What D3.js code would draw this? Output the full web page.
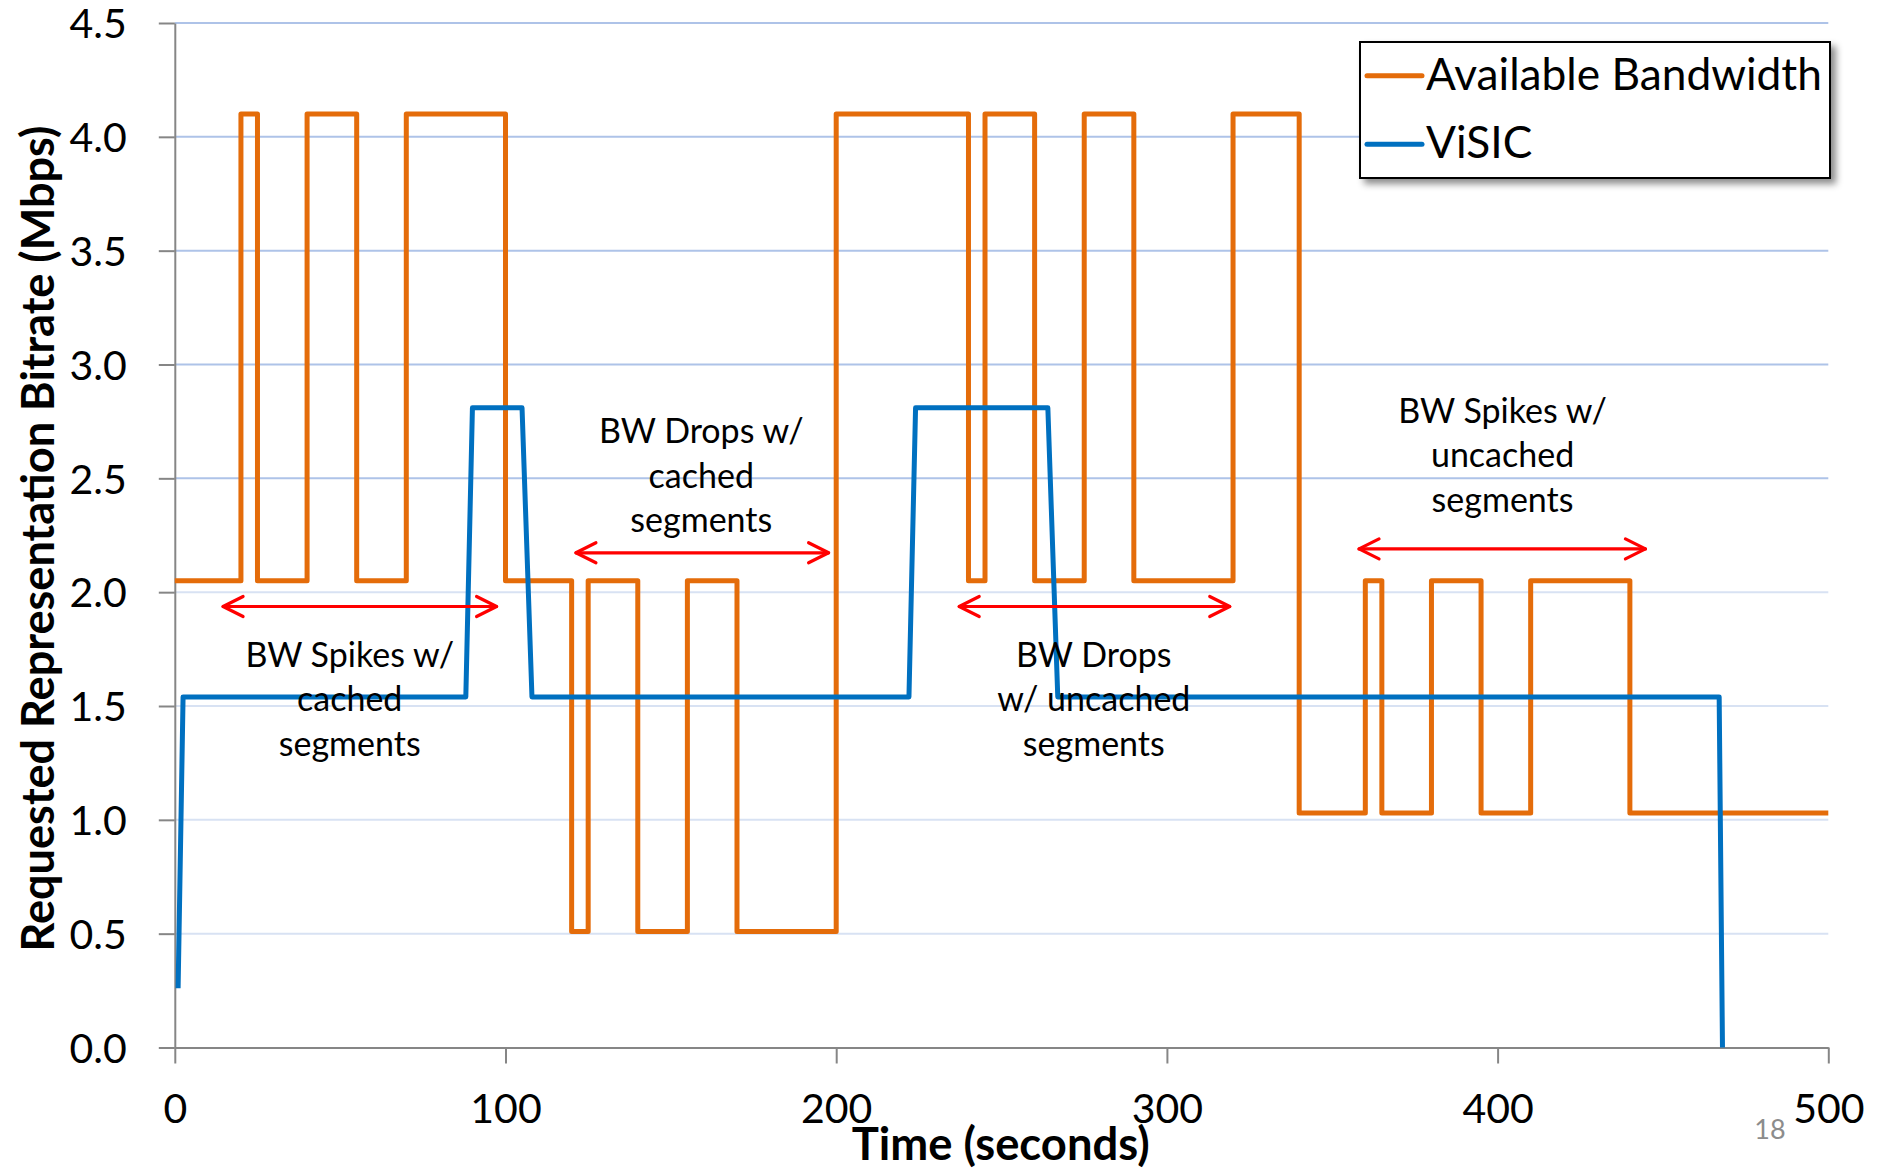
<!DOCTYPE html>
<html>
<head>
<meta charset="utf-8">
<script src="https://cdn.jsdelivr.net/npm/d3@7"></script>
<style>
  html, body { margin: 0; padding: 0; background: #fff; }
  svg { display: block; font-family: Lato, "Open Sans", sans-serif; }
</style>
</head>
<body>
<div id="chart"></div>
<script>
// Available bandwidth: step changes (value holds until next time)
const bwTimes  = [0, 20, 25, 40, 55, 70, 100, 120, 125, 140, 155, 170, 200, 240, 245, 260, 275, 290, 320, 340, 360, 365, 380, 395, 410, 440, 500];
const bwValues = [2.05, 4.1, 2.05, 4.1, 2.05, 4.1, 2.05, 0.51, 2.05, 0.51, 2.05, 0.51, 4.1, 2.05, 4.1, 2.05, 4.1, 2.05, 4.1, 1.03, 2.05, 1.03, 2.05, 1.03, 2.05, 1.03, 1.03];

// ViSIC requested bitrate
const visicTimes  = [1, 2.5, 88, 90, 105, 108, 222, 224, 264, 267, 467, 468];
const visicValues = [0.26, 1.54, 1.54, 2.81, 2.81, 1.54, 1.54, 2.81, 2.81, 1.54, 1.54, 0];

const xTicks = [0, 100, 200, 300, 400, 500];
const yTicks = [0, 0.5, 1, 1.5, 2, 2.5, 3, 3.5, 4, 4.5];

const seriesNames = ['Available Bandwidth', 'ViSIC'];

// annotations: text lines, centre time, first baseline, arrow span and level
const noteLines = [
  ['BW Spikes w/', 'cached', 'segments'],
  ['BW Drops w/', 'cached', 'segments'],
  ['BW Drops', 'w/ uncached', 'segments'],
  ['BW Spikes w/', 'uncached', 'segments']
];
const noteCenters   = [52.9, 159.2, 277.9, 401.5];
const noteBaselines = [1.673, 2.655, 1.673, 2.744];
const arrowStarts   = [14.6, 121.3, 237.2, 358.1];
const arrowEnds     = [97.3, 197.7, 319.0, 444.7];
const arrowLevels   = [1.937, 2.173, 1.937, 2.19];

const width = 1877, height = 1169;
const margin = {top: 23, right: 48.7, bottom: 121.5, left: 174.8};
const orange = '#e46c0a', blue = '#0070c0', red = '#ff0000';

const svg = d3.select('#chart').append('svg')
  .attr('width', width)
  .attr('height', height);

const defs = svg.append('defs');
const shadow = defs.append('filter').attr('id', 'shadow')
  .attr('x', '-10%').attr('y', '-20%').attr('width', '130%').attr('height', '160%');
shadow.append('feDropShadow')
  .attr('dx', 5).attr('dy', 5).attr('stdDeviation', 3.5)
  .attr('flood-color', '#000').attr('flood-opacity', 0.45);

const x = d3.scaleLinear()
  .domain([0, 500])
  .range([margin.left, width - margin.right]);

const y = d3.scaleLinear()
  .domain([0, 4.5])
  .range([height - margin.bottom, margin.top]);

// gridlines
svg.append('g').attr('class', 'grid')
  .selectAll('line').data(yTicks.filter(d => d > 0))
  .enter().append('line')
  .attr('x1', x(0)).attr('x2', x(500))
  .attr('y1', d => y(d)).attr('y2', d => y(d))
  .attr('stroke', d => d > 2.2 ? '#aec3e8' : '#d8e2f3')
  .attr('stroke-width', 2);

// Y axis
const yAxis = svg.append('g')
  .attr('transform', 'translate(' + x(0) + ',0)')
  .call(d3.axisLeft(y).tickValues(yTicks).tickFormat(d3.format('.1f'))
    .tickSize(16).tickSizeOuter(0).tickPadding(32));

// X axis
const xAxis = svg.append('g')
  .attr('transform', 'translate(0,' + y(0) + ')')
  .call(d3.axisBottom(x).tickValues(xTicks).tickFormat(d3.format('d'))
    .tickSize(16).tickSizeOuter(0));
xAxis.selectAll('text').attr('dy', null).attr('y', 75.5);

[yAxis, xAxis].forEach(a => {
  a.select('.domain').attr('stroke', '#868686').attr('stroke-width', 2);
  a.selectAll('.tick line').attr('stroke', '#868686').attr('stroke-width', 2);
  a.selectAll('text').attr('fill', '#000').style('font-size', '41px')
    .style('font-family', 'Lato, sans-serif');
});
yAxis.selectAll('text').attr('dy', '0.36em');

// series
const bwLine = d3.line()
  .x((d, i) => x(bwTimes[i]))
  .y(d => y(d))
  .curve(d3.curveStepAfter);

svg.append('path')
  .attr('d', bwLine(bwValues))
  .attr('fill', 'none')
  .attr('stroke', orange)
  .attr('stroke-width', 5)
  .attr('stroke-linejoin', 'round');

const visicLine = d3.line()
  .x((d, i) => x(visicTimes[i]))
  .y(d => y(d));

svg.append('path')
  .attr('d', visicLine(visicValues))
  .attr('fill', 'none')
  .attr('stroke', blue)
  .attr('stroke-width', 5)
  .attr('stroke-linejoin', 'round');

// annotation arrows
const arrows = svg.append('g').attr('class', 'arrows')
  .attr('fill', 'none').attr('stroke', red).attr('stroke-width', 3.2)
  .attr('stroke-linecap', 'round').attr('stroke-linejoin', 'round');

arrowStarts.forEach((s, i) => {
  const x1 = x(s), x2 = x(arrowEnds[i]), yy = y(arrowLevels[i]);
  arrows.append('line').attr('x1', x1).attr('x2', x2).attr('y1', yy).attr('y2', yy);
  arrows.append('path').attr('d', `M${x1 + 20},${yy - 10}L${x1},${yy}L${x1 + 20},${yy + 10}`);
  arrows.append('path').attr('d', `M${x2 - 20},${yy - 10}L${x2},${yy}L${x2 - 20},${yy + 10}`);
});

// annotation text
const notes = svg.append('g').attr('class', 'notes')
  .attr('text-anchor', 'middle')
  .style('font-size', '34px');

noteLines.forEach((lines, i) => {
  const t = notes.append('text')
    .attr('x', x(noteCenters[i]))
    .attr('y', y(noteBaselines[i]));
  lines.forEach((l, j) => {
    t.append('tspan')
      .attr('x', x(noteCenters[i]))
      .attr('dy', j === 0 ? 0 : 44.6)
      .text(l);
  });
});

// axis titles and legend text are sized to the reference widths
function fitWidth(sel, target) {
  const len = sel.node().getComputedTextLength();
  const size = parseFloat(sel.style('font-size'));
  sel.style('font-size', (size * target / len) + 'px');
  return size * target / len;
}

// legend
const legend = svg.append('g').attr('class', 'legend');
legend.append('rect')
  .attr('x', 1360).attr('y', 42)
  .attr('width', 470).attr('height', 136)
  .attr('fill', '#fff')
  .attr('stroke', '#000')
  .attr('stroke-width', 2)
  .attr('filter', 'url(#shadow)');

const legendColors = [orange, blue];
const legendTexts = [];
seriesNames.forEach((name, i) => {
  const ly = 75.8 + i * 68.5;
  legend.append('line')
    .attr('x1', 1367).attr('x2', 1422)
    .attr('y1', ly).attr('y2', ly)
    .attr('stroke', legendColors[i])
    .attr('stroke-width', 5)
    .attr('stroke-linecap', 'round');
  legendTexts.push(legend.append('text')
    .attr('x', 1426)
    .attr('y', ly + 14)
    .style('font-size', '40px')
    .text(name));
});
const legendSize = fitWidth(legendTexts[0], 396);
legendTexts[1].style('font-size', legendSize + 'px');

const yTitle = svg.append('text')
  .attr('transform', 'translate(54,' + 538.6 + ') rotate(-90)')
  .attr('text-anchor', 'middle')
  .style('font-weight', 'bold')
  .style('font-size', '44px')
  .text('Requested Representation Bitrate (Mbps)');
fitWidth(yTitle, 826);

const xTitle = svg.append('text')
  .attr('x', 1000.7)
  .attr('y', 1160)
  .attr('text-anchor', 'middle')
  .style('font-weight', 'bold')
  .style('font-size', '44px')
  .text('Time (seconds)');
fitWidth(xTitle, 298);

// slide number
svg.append('text')
  .attr('x', 1770)
  .attr('y', 1138.7)
  .attr('text-anchor', 'middle')
  .attr('fill', '#8c8c8c')
  .style('font-size', '27px')
  .text('18');
</script>
</body>
</html>
